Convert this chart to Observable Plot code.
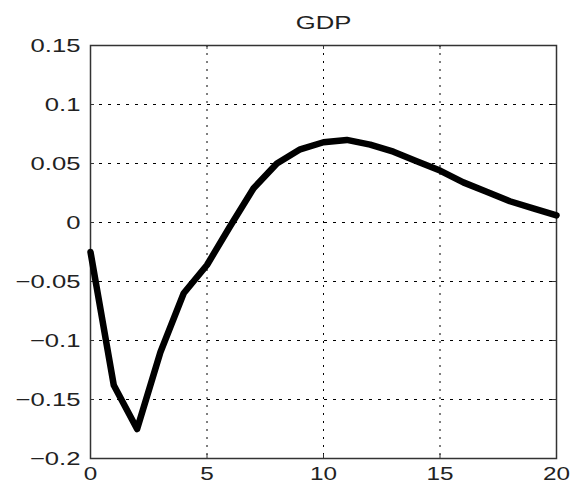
<!DOCTYPE html>
<html>
<head>
<meta charset="utf-8">
<script src="https://cdn.jsdelivr.net/npm/d3@7"></script>
<script src="https://cdn.jsdelivr.net/npm/@observablehq/plot@0.6"></script>
<style>
  html, body { margin: 0; padding: 0; background: #fff; }
</style>
</head>
<body>
<div id="chart"></div>
<script>
// Impulse response of GDP over 20 periods
const periods = [0, 1, 2, 3, 4, 5, 6, 7, 8, 9, 10, 11, 12, 13, 14, 15, 16, 17, 18, 19, 20];
const gdp = [-0.025, -0.138, -0.175, -0.11, -0.06, -0.036, -0.003, 0.029, 0.05, 0.062, 0.068,
             0.07, 0.066, 0.06, 0.052, 0.044, 0.034, 0.026, 0.018, 0.012, 0.006];
const xTicks = [0, 5, 10, 15, 20];
const yTicks = [-0.2, -0.15, -0.1, -0.05, 0, 0.05, 0.1, 0.15];
const title = "GDP";

const W = 574, H = 486;
const mL = 90, mR = 18, mT = 45, mB = 28;
const innerW = W - mL - mR, innerH = H - mT - mB;
const tickLen = 4;

const rows = periods.map((t, i) => ({t, v: gdp[i]}));
const fmt = d => String(d).replace("-", "\u2212");

const chart = Plot.plot({
  width: W,
  height: H,
  marginLeft: mL,
  marginRight: mR,
  marginTop: mT,
  marginBottom: mB,
  style: {fontFamily: "'Liberation Sans', Arial, sans-serif", fontSize: "19px", color: "#222", background: "#fff"},
  x: {domain: [0, 20]},
  y: {domain: [-0.2, 0.15]},
  marks: [
    Plot.gridX(xTicks, {stroke: "#000", strokeOpacity: 1, strokeDasharray: "2,6"}),
    Plot.gridY(yTicks, {stroke: "#000", strokeOpacity: 1, strokeDasharray: "3,6"}),
    // inward tick marks on all four sides
    Plot.tickX(xTicks, {x: d => d, insetTop: innerH - tickLen, stroke: "#333"}),
    Plot.tickX(xTicks, {x: d => d, insetBottom: innerH - tickLen, stroke: "#333"}),
    Plot.tickY(yTicks, {y: d => d, insetRight: innerW - tickLen, stroke: "#333"}),
    Plot.tickY(yTicks, {y: d => d, insetLeft: innerW - tickLen, stroke: "#333"}),
    Plot.frame({stroke: "#333", strokeWidth: 1.5}),
    Plot.line(rows, {x: "t", y: "v", stroke: "#000", strokeWidth: 6.5, strokeLinejoin: "round"}),
    Plot.axisX(xTicks, {tickSize: 0, tickPadding: 9, tickFormat: fmt, fontSize: 18, label: null}),
    Plot.axisY(yTicks, {tickSize: 0, tickPadding: 10, tickFormat: fmt, fontSize: 19, label: null}),
    Plot.text([title], {frameAnchor: "top", dy: -17, lineAnchor: "bottom", fontSize: 19, fill: "#222"})
  ]
});

// widen the lettering horizontally, keeping each label's anchor point fixed
chart.querySelectorAll("text").forEach(t => {
  const tr = t.getAttribute("transform");
  if (tr) t.setAttribute("transform", tr + " scale(1.35,1)");
});

document.getElementById("chart").appendChild(chart);
</script>
</body>
</html>
